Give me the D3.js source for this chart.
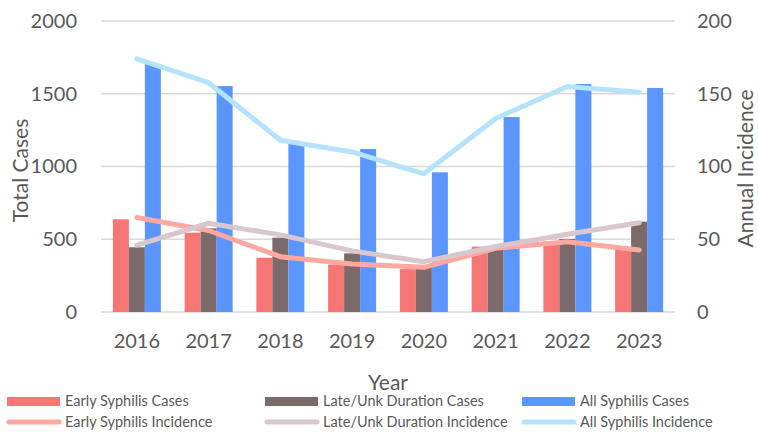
<!DOCTYPE html>
<html>
<head>
<meta charset="utf-8">
<script src="https://cdn.jsdelivr.net/npm/d3@7"></script>
<style>
    body { margin: 0; background: #fff; }
    svg text { font-family: Lato, "Open Sans", sans-serif; fill: #595959; }
</style>
</head>
<body>
<div id="chart"></div>
<script>

// data
let years = ["2016", "2017", "2018", "2019", "2020", "2021", "2022", "2023"];
let earlyCases = [637, 545, 373, 325, 295, 449, 485, 431];
let lateCases = [445, 575, 511, 403, 311, 440, 502, 621];
let allCases = [1705, 1553, 1160, 1120, 960, 1340, 1567, 1540];
let earlyIncidence = [65, 56, 38, 33, 30.7, 43.8, 48.3, 42.6];
let lateIncidence = [46, 61, 53, 42, 34.6, 45, 53.4, 61.4];
let allIncidence = [174, 157.6, 118, 110, 95, 133, 155, 151];
let leftTicks = [0, 500, 1000, 1500, 2000];
let rightTicks = [0, 50, 100, 150, 200];

let barSeries = [
    {name: "Early Syphilis Cases", values: earlyCases, color: "#F67575"},
    {name: "Late/Unk Duration Cases", values: lateCases, color: "#7B6A69"},
    {name: "All Syphilis Cases", values: allCases, color: "#5B96FF"}
];
let lineSeries = [
    {name: "Early Syphilis Incidence", values: earlyIncidence, color: "#FFA8A1"},
    {name: "Late/Unk Duration Incidence", values: lateIncidence, color: "#D9C7CE"},
    {name: "All Syphilis Incidence", values: allIncidence, color: "#B5E3FD"}
];

let width = 758, height = 432;
let plot = {left: 101, right: 675, top: 21, bottom: 312};

let svg = d3.select("#chart").append("svg")
    .attr("width", width)
    .attr("height", height);

// scales
let x = d3.scaleBand()
    .domain(years)
    .range([plot.left, plot.right])
    .paddingInner(0.331)
    .paddingOuter(0.1655);

let xSub = d3.scaleBand()
    .domain(barSeries.map(d => d.name))
    .range([0, x.bandwidth()]);

let yLeft = d3.scaleLinear().domain([0, 2000]).range([plot.bottom, plot.top]);
let yRight = d3.scaleLinear().domain([0, 200]).range([plot.bottom, plot.top]);

// gridlines
svg.append("g")
    .selectAll("line")
    .data(leftTicks)
    .enter().append("line")
    .attr("x1", plot.left)
    .attr("x2", plot.right)
    .attr("y1", d => yLeft(d))
    .attr("y2", d => yLeft(d))
    .attr("stroke", "#D9D9D9")
    .attr("stroke-width", 1.5);

// left axis
let leftAxis = svg.append("g")
    .attr("transform", `translate(${plot.left - 24},0)`)
    .call(d3.axisLeft(yLeft).tickValues(leftTicks).tickFormat(d3.format("d")).tickSize(0).tickPadding(0));
leftAxis.select(".domain").remove();
leftAxis.selectAll("text")
    .style("font-size", "20px")
    .style("font-family", "Lato")
    .attr("fill", "#595959");

// right axis
let rightAxis = svg.append("g")
    .attr("transform", `translate(${plot.right + 22},0)`)
    .call(d3.axisRight(yRight).tickValues(rightTicks).tickFormat(d3.format("d")).tickSize(0).tickPadding(0));
rightAxis.select(".domain").remove();
rightAxis.selectAll("text")
    .style("font-size", "20px")
    .style("font-family", "Lato")
    .attr("fill", "#595959");

// x axis labels
let bottomAxis = svg.append("g")
    .attr("transform", `translate(0,${plot.bottom + 22})`)
    .call(d3.axisBottom(x).tickSize(0).tickPadding(0));
bottomAxis.select(".domain").remove();
bottomAxis.selectAll("text")
    .style("font-size", "20px")
    .style("font-family", "Lato")
    .attr("fill", "#595959");

// bars
barSeries.forEach(function (s) {
    svg.append("g")
        .selectAll("rect")
        .data(s.values)
        .enter().append("rect")
        .attr("x", (d, i) => x(years[i]) + xSub(s.name))
        .attr("width", xSub.bandwidth())
        .attr("y", d => yLeft(d))
        .attr("height", d => yLeft(0) - yLeft(d))
        .attr("fill", s.color);
});

// incidence lines
let line = d3.line()
    .x((d, i) => x(years[i]) + x.bandwidth() / 2)
    .y(d => yRight(d));

lineSeries.forEach(function (s) {
    svg.append("path")
        .datum(s.values)
        .attr("d", line)
        .attr("fill", "none")
        .attr("stroke", s.color)
        .attr("stroke-width", 5)
        .attr("stroke-linejoin", "round")
        .attr("stroke-linecap", "round");
});

// axis titles
svg.append("text")
    .attr("transform", `translate(28,${(plot.top + plot.bottom) / 2 + 4}) rotate(-90)`)
    .attr("text-anchor", "middle")
    .style("font-size", "21px")
    .text("Total Cases");

svg.append("text")
    .attr("transform", `translate(753,${(plot.top + plot.bottom) / 2 + 2}) rotate(-90)`)
    .attr("text-anchor", "middle")
    .style("font-size", "21px")
    .text("Annual Incidence");

svg.append("text")
    .attr("x", 388)
    .attr("y", 390)
    .attr("text-anchor", "middle")
    .style("font-size", "21px")
    .text("Year");

// legend
let legendX = [7, 265, 522];

let legend = svg.append("g").attr("class", "legend");

barSeries.forEach(function (s, i) {
    legend.append("rect")
        .attr("x", legendX[i])
        .attr("y", 397)
        .attr("width", 53)
        .attr("height", 9)
        .attr("fill", s.color);
    legend.append("text")
        .attr("x", legendX[i] + 58)
        .attr("y", 406)
        .style("font-size", "14.5px")
        .text(s.name);
});

lineSeries.forEach(function (s, i) {
    legend.append("line")
        .attr("x1", legendX[i] + 2)
        .attr("x2", legendX[i] + 52)
        .attr("y1", 422)
        .attr("y2", 422)
        .attr("stroke", s.color)
        .attr("stroke-width", 5)
        .attr("stroke-linecap", "round");
    legend.append("text")
        .attr("x", legendX[i] + 58)
        .attr("y", 427)
        .style("font-size", "14.5px")
        .text(s.name);
});

</script>
</body>
</html>
